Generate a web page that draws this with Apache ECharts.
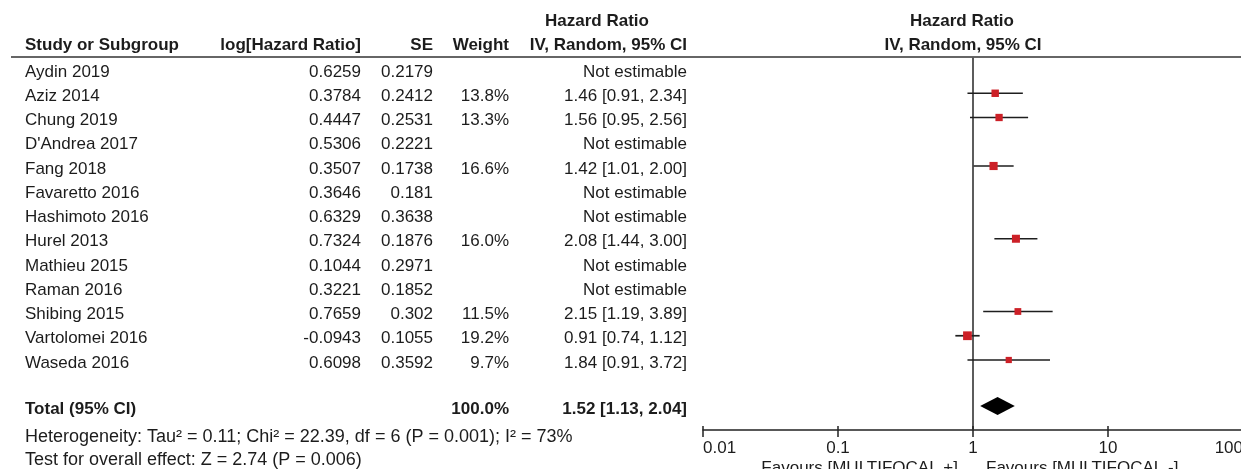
<!DOCTYPE html>
<html>
<head>
<meta charset="utf-8">
<script src="https://cdn.jsdelivr.net/npm/echarts@6/dist/echarts.min.js"></script>
<style>
  html, body { margin: 0; padding: 0; background: #ffffff; }
  #chart { width: 1241px; height: 469px; }
</style>
</head>
<body>
<div id="chart"></div>
<script>
// Forest plot: hazard ratios per study (IV, random effects)
const studies = ['Aydin 2019', 'Aziz 2014', 'Chung 2019', "D'Andrea 2017", 'Fang 2018', 'Favaretto 2016',
  'Hashimoto 2016', 'Hurel 2013', 'Mathieu 2015', 'Raman 2016', 'Shibing 2015', 'Vartolomei 2016', 'Waseda 2016'];
const logHR = ['0.6259', '0.3784', '0.4447', '0.5306', '0.3507', '0.3646', '0.6329', '0.7324', '0.1044', '0.3221',
  '0.7659', '-0.0943', '0.6098'];
const seValues = ['0.2179', '0.2412', '0.2531', '0.2221', '0.1738', '0.181', '0.3638', '0.1876', '0.2971', '0.1852',
  '0.302', '0.1055', '0.3592'];
const weights = [null, 13.8, 13.3, null, 16.6, null, null, 16.0, null, null, 11.5, 19.2, 9.7];
const hazardRatio = [null, 1.46, 1.56, null, 1.42, null, null, 2.08, null, null, 2.15, 0.91, 1.84];
const ciLower = [null, 0.91, 0.95, null, 1.01, null, null, 1.44, null, null, 1.19, 0.74, 0.91];
const ciUpper = [null, 2.34, 2.56, null, 2.00, null, null, 3.00, null, null, 3.89, 1.12, 3.72];

// Pooled estimate
const totalLabel = 'Total (95% CI)';
const totalWeight = 100.0;
const totalHR = 1.52;
const totalLower = 1.13;
const totalUpper = 2.04;
const totalRow = 13.9;

const tickValues = [0.01, 0.1, 1, 10, 100];
const tickLabels = ['0.01', '0.1', '1', '10', '100'];

const heterogeneityText = 'Heterogeneity: Tau\u00b2 = 0.11; Chi\u00b2 = 22.39, df = 6 (P = 0.001); I\u00b2 = 73%';
const overallText = 'Test for overall effect: Z = 2.74 (P = 0.006)';
const favoursLeft = 'Favours [MULTIFOCAL +]';
const favoursRight = 'Favours [MULTIFOCAL -]';

const FF = '"Liberation Sans", Arial, sans-serif';
const BODY = '17px ' + FF;
const FOOT = '18px ' + FF;
const BOLD = 'bold 17px ' + FF;
const INK = '#1c1c1c';

const Y_MIN = -0.495;
const Y_MAX = 14.887;

function fmtHR(h, l, u) {
  return h.toFixed(2) + ' [' + l.toFixed(2) + ', ' + u.toFixed(2) + ']';
}

// Column anchors (right edges unless noted)
const COL = { name: 25, logHR: 361, se: 433, weight: 509, ci: 687 };
const TEXT_DY = 3;

const tableData = studies.map((s, i) => [1, i]);
const markData = [];
hazardRatio.forEach((h, i) => {
  if (h != null) markData.push([h, i, ciLower[i], ciUpper[i], weights[i]]);
});

const chart = echarts.init(document.getElementById('chart'), null, { renderer: 'canvas' });

chart.setOption({
  animation: false,
  backgroundColor: '#ffffff',
  grid: { left: 703, top: 57, width: 540, height: 373, containLabel: false, outerBoundsMode: 'none' },
  xAxis: {
    type: 'log', logBase: 10, min: 0.01, max: 100, splitNumber: 4,
    axisLine: { show: true, onZero: false, lineStyle: { color: '#222', width: 1.5 } },
    axisTick: { show: true, length: 7, lineStyle: { color: '#222', width: 1.5 } },
    minorTick: { show: false },
    splitLine: { show: false },
    axisLabel: {
      show: true, margin: 10, color: INK, fontSize: 17, fontFamily: FF,
      alignMinLabel: 'left', alignMaxLabel: 'right', showMinLabel: true, showMaxLabel: true,
      formatter: function (v) {
        const k = tickValues.findIndex(t => Math.abs(Math.log10(t) - Math.log10(v)) < 1e-6);
        return k >= 0 ? tickLabels[k] : '';
      }
    }
  },
  yAxis: {
    type: 'value', inverse: true, min: Y_MIN, max: Y_MAX,
    show: false
  },
  graphic: [
    { type: 'line', shape: { x1: 11, y1: 57, x2: 1241, y2: 57 }, style: { stroke: '#333', lineWidth: 1.6 } },
    { type: 'text', style: { text: 'Study or Subgroup', x: COL.name, y: 45, font: BOLD, fill: INK, align: 'left', verticalAlign: 'middle' } },
    { type: 'text', style: { text: 'log[Hazard Ratio]', x: COL.logHR, y: 45, font: BOLD, fill: INK, align: 'right', verticalAlign: 'middle' } },
    { type: 'text', style: { text: 'SE', x: COL.se, y: 45, font: BOLD, fill: INK, align: 'right', verticalAlign: 'middle' } },
    { type: 'text', style: { text: 'Weight', x: COL.weight, y: 45, font: BOLD, fill: INK, align: 'right', verticalAlign: 'middle' } },
    { type: 'text', style: { text: 'Hazard Ratio', x: 597, y: 21, font: BOLD, fill: INK, align: 'center', verticalAlign: 'middle' } },
    { type: 'text', style: { text: 'IV, Random, 95% CI', x: COL.ci, y: 45, font: BOLD, fill: INK, align: 'right', verticalAlign: 'middle' } },
    { type: 'text', style: { text: 'Hazard Ratio', x: 962, y: 21, font: BOLD, fill: INK, align: 'center', verticalAlign: 'middle' } },
    { type: 'text', style: { text: 'IV, Random, 95% CI', x: 963, y: 45, font: BOLD, fill: INK, align: 'center', verticalAlign: 'middle' } },
    { type: 'text', style: { text: heterogeneityText, x: COL.name, y: 437, font: FOOT, fill: INK, align: 'left', verticalAlign: 'middle' } },
    { type: 'text', style: { text: overallText, x: COL.name, y: 460, font: FOOT, fill: INK, align: 'left', verticalAlign: 'middle' } },
    { type: 'text', style: { text: favoursLeft, x: 958, y: 468, font: BODY, fill: INK, align: 'right', verticalAlign: 'middle' } },
    { type: 'text', style: { text: favoursRight, x: 986, y: 468, font: BODY, fill: INK, align: 'left', verticalAlign: 'middle' } }
  ],
  series: [
    {
      // study table text, one line per study row
      type: 'custom', name: 'table', clip: false, silent: true,
      data: tableData,
      renderItem: function (params, api) {
        const i = params.dataIndex;
        const y = api.coord([1, api.value(1)])[1] + TEXT_DY;
        const t = (text, x, align) => ({
          type: 'text',
          style: { text: text, x: x, y: y, font: BODY, fill: INK, align: align, verticalAlign: 'middle' }
        });
        const kids = [
          t(studies[i], COL.name, 'left'),
          t(logHR[i], COL.logHR, 'right'),
          t(seValues[i], COL.se, 'right')
        ];
        if (weights[i] != null) {
          kids.push(t(weights[i].toFixed(1) + '%', COL.weight, 'right'));
          kids.push(t(fmtHR(hazardRatio[i], ciLower[i], ciUpper[i]), COL.ci, 'right'));
        } else {
          kids.push(t('Not estimable', COL.ci, 'right'));
        }
        return { type: 'group', children: kids };
      }
    },
    {
      // short upward tick stubs above the axis line at each decade
      type: 'custom', name: 'tickStubs', clip: false, silent: true,
      data: tickValues.map(v => [v, Y_MAX]),
      renderItem: function (params, api) {
        const p = api.coord([api.value(0), api.value(1)]);
        return { type: 'line', shape: { x1: p[0], y1: p[1] - 4, x2: p[0], y2: p[1] }, style: { stroke: '#222', lineWidth: 1.5 } };
      }
    },
    {
      // confidence intervals and weighted squares
      type: 'custom', name: 'studies', clip: false,
      data: markData,
      encode: { x: [0, 2, 3], y: 1 },
      renderItem: function (params, api) {
        const row = api.value(1);
        const c = api.coord([api.value(0), row]);
        const lo = api.coord([api.value(2), row]);
        const hi = api.coord([api.value(3), row]);
        const s = 2.0 * Math.sqrt(api.value(4));
        return {
          type: 'group',
          children: [
            { type: 'line', shape: { x1: lo[0], y1: c[1], x2: hi[0], y2: c[1] }, style: { stroke: '#1e1e1e', lineWidth: 1.7 } },
            { type: 'rect', shape: { x: c[0] - s / 2, y: c[1] - s / 2, width: s, height: s }, style: { fill: '#cc2027' } }
          ]
        };
      },
      markLine: {
        silent: true, symbol: 'none', label: { show: false },
        lineStyle: { color: '#5c5c5c', width: 2, type: 'solid' },
        data: [{ xAxis: 1 }],
        z: 1
      },
      z: 3
    },
    {
      // pooled estimate: diamond plus total row text
      type: 'custom', name: 'total', clip: false,
      data: [[totalHR, totalRow, totalLower, totalUpper]],
      encode: { x: [0, 2, 3], y: 1 },
      renderItem: function (params, api) {
        const row = api.value(1);
        const c = api.coord([api.value(0), row]);
        const lo = api.coord([api.value(2), row]);
        const hi = api.coord([api.value(3), row]);
        const h = 9;
        const ty = c[1] + TEXT_DY;
        const t = (text, x, align) => ({
          type: 'text',
          style: { text: text, x: x, y: ty, font: BOLD, fill: INK, align: align, verticalAlign: 'middle' }
        });
        return {
          type: 'group',
          children: [
            { type: 'polygon', shape: { points: [[lo[0], c[1]], [c[0], c[1] - h], [hi[0], c[1]], [c[0], c[1] + h]] }, style: { fill: '#000' } },
            t(totalLabel, COL.name, 'left'),
            t(totalWeight.toFixed(1) + '%', COL.weight, 'right'),
            t(fmtHR(totalHR, totalLower, totalUpper), COL.ci, 'right')
          ]
        };
      },
      z: 3
    }
  ]
});
</script>
</body>
</html>
